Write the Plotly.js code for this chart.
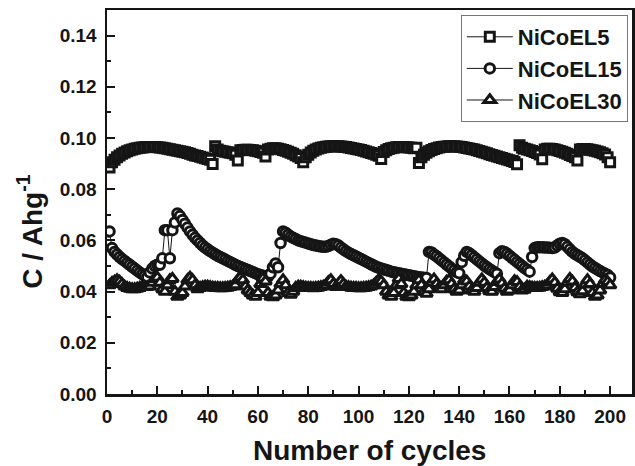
<!DOCTYPE html>
<html>
<head>
<meta charset="utf-8">
<script src="https://cdn.plot.ly/plotly-3.0.1.min.js"></script>
<style>
html,body{margin:0;padding:0;background:#fff;}
#chart{width:635px;height:466px;}
</style>
</head>
<body>
<div id="chart"></div>
<script>
// Series names
const seriesNames = ["NiCoEL5", "NiCoEL15", "NiCoEL30"];

// Capacity C / Ahg^-1 for cycles 1..200
const nicoel5 = [
0.0885,0.0905,0.0915,0.0925,0.0932,0.0938,0.0943,0.0948,0.0952,0.0955,
0.0958,0.0960,0.0962,0.0963,0.0964,0.0965,0.0965,0.0965,0.0965,0.0964,
0.0963,0.0962,0.0960,0.0958,0.0956,0.0954,0.0952,0.0950,0.0948,0.0946,
0.0944,0.0941,0.0938,0.0935,0.0932,0.0930,0.0927,0.0924,0.0921,0.0918,
0.0915,0.0898,0.0968,0.0955,0.0950,0.0948,0.0946,0.0944,0.0942,0.0940,
0.0935,0.0912,0.0952,0.0953,0.0954,0.0954,0.0953,0.0952,0.0950,0.0948,
0.0945,0.0942,0.0928,0.0955,0.0958,0.0960,0.0960,0.0958,0.0956,0.0953,
0.0950,0.0946,0.0942,0.0938,0.0933,0.0928,0.0922,0.0905,0.0925,0.0935,
0.0943,0.0950,0.0955,0.0959,0.0962,0.0964,0.0966,0.0967,0.0968,0.0968,
0.0968,0.0968,0.0967,0.0966,0.0965,0.0963,0.0961,0.0959,0.0957,0.0955,
0.0953,0.0950,0.0947,0.0944,0.0941,0.0938,0.0935,0.0931,0.0918,0.0945,
0.0952,0.0957,0.0960,0.0962,0.0964,0.0965,0.0965,0.0965,0.0964,0.0963,
0.0962,0.0960,0.0962,0.0902,0.0925,0.0935,0.0942,0.0948,0.0953,0.0957,
0.0960,0.0963,0.0965,0.0966,0.0967,0.0968,0.0968,0.0968,0.0967,0.0966,
0.0965,0.0963,0.0961,0.0959,0.0957,0.0955,0.0952,0.0949,0.0946,0.0943,
0.0940,0.0937,0.0934,0.0931,0.0928,0.0925,0.0922,0.0919,0.0916,0.0913,
0.0910,0.0906,0.0897,0.0972,0.0962,0.0958,0.0955,0.0952,0.0949,0.0945,
0.0941,0.0936,0.0917,0.0955,0.0958,0.0958,0.0957,0.0955,0.0952,0.0949,
0.0946,0.0942,0.0938,0.0934,0.0930,0.0925,0.0912,0.0955,0.0957,0.0957,
0.0956,0.0954,0.0952,0.0950,0.0947,0.0944,0.0940,0.0936,0.0925,0.0905
];

const nicoel15 = [
0.0635,0.0570,0.0555,0.0545,0.0535,0.0527,0.0520,0.0512,0.0505,0.0497,
0.0490,0.0482,0.0475,0.0468,0.0462,0.0455,0.0475,0.0490,0.0500,0.0505,
0.0505,0.0530,0.0640,0.0640,0.0530,0.0640,0.0670,0.0705,0.0695,0.0680,
0.0665,0.0650,0.0635,0.0622,0.0610,0.0600,0.0590,0.0580,0.0572,0.0565,
0.0558,0.0552,0.0546,0.0540,0.0535,0.0530,0.0525,0.0520,0.0515,0.0510,
0.0505,0.0500,0.0496,0.0492,0.0488,0.0484,0.0480,0.0476,0.0472,0.0468,
0.0465,0.0462,0.0460,0.0458,0.0470,0.0495,0.0510,0.0495,0.0590,0.0635,
0.0630,0.0622,0.0615,0.0610,0.0605,0.0600,0.0597,0.0594,0.0591,0.0588,
0.0585,0.0582,0.0580,0.0578,0.0576,0.0575,0.0575,0.0578,0.0583,0.0587,
0.0585,0.0580,0.0572,0.0565,0.0558,0.0552,0.0547,0.0542,0.0537,0.0532,
0.0527,0.0522,0.0517,0.0512,0.0507,0.0502,0.0497,0.0493,0.0490,0.0487,
0.0484,0.0481,0.0478,0.0476,0.0474,0.0472,0.0470,0.0468,0.0466,0.0464,
0.0462,0.0460,0.0458,0.0456,0.0455,0.0454,0.0453,0.0555,0.0553,0.0545,
0.0538,0.0530,0.0522,0.0514,0.0506,0.0498,0.0490,0.0483,0.0476,0.0472,
0.0515,0.0540,0.0555,0.0550,0.0542,0.0534,0.0526,0.0518,0.0510,0.0502,
0.0495,0.0488,0.0482,0.0476,0.0470,0.0550,0.0558,0.0555,0.0548,0.0540,
0.0532,0.0524,0.0516,0.0508,0.0500,0.0492,0.0485,0.0478,0.0535,0.0570,
0.0573,0.0573,0.0573,0.0572,0.0572,0.0571,0.0570,0.0572,0.0580,0.0587,
0.0590,0.0585,0.0575,0.0565,0.0555,0.0548,0.0542,0.0536,0.0530,0.0522,
0.0514,0.0506,0.0498,0.0492,0.0486,0.0480,0.0475,0.0470,0.0465,0.0455
];

const nicoel30 = [
0.0425,0.0435,0.0440,0.0445,0.0440,0.0430,0.0420,0.0415,0.0412,0.0410,
0.0410,0.0412,0.0415,0.0418,0.0420,0.0418,0.0420,0.0435,0.0450,0.0455,
0.0435,0.0410,0.0400,0.0425,0.0445,0.0450,0.0400,0.0380,0.0385,0.0395,
0.0420,0.0445,0.0455,0.0445,0.0425,0.0410,0.0415,0.0418,0.0420,0.0420,
0.0418,0.0416,0.0415,0.0415,0.0414,0.0414,0.0415,0.0416,0.0418,0.0420,
0.0425,0.0445,0.0455,0.0445,0.0420,0.0405,0.0395,0.0385,0.0380,0.0395,
0.0430,0.0452,0.0440,0.0395,0.0380,0.0378,0.0385,0.0405,0.0430,0.0445,
0.0425,0.0395,0.0388,0.0400,0.0415,0.0420,0.0420,0.0418,0.0416,0.0415,
0.0415,0.0414,0.0415,0.0416,0.0418,0.0420,0.0425,0.0438,0.0445,0.0430,
0.0418,0.0430,0.0442,0.0430,0.0420,0.0418,0.0416,0.0415,0.0415,0.0414,
0.0414,0.0415,0.0416,0.0418,0.0420,0.0425,0.0435,0.0445,0.0440,0.0425,
0.0400,0.0385,0.0380,0.0395,0.0425,0.0450,0.0430,0.0395,0.0380,0.0378,
0.0385,0.0400,0.0425,0.0445,0.0425,0.0400,0.0392,0.0410,0.0435,0.0448,
0.0430,0.0415,0.0410,0.0425,0.0440,0.0445,0.0430,0.0410,0.0400,0.0405,
0.0425,0.0445,0.0440,0.0420,0.0405,0.0400,0.0415,0.0435,0.0448,0.0435,
0.0415,0.0402,0.0400,0.0418,0.0438,0.0448,0.0432,0.0412,0.0400,0.0405,
0.0425,0.0442,0.0438,0.0418,0.0405,0.0408,0.0420,0.0418,0.0416,0.0415,
0.0415,0.0416,0.0418,0.0420,0.0425,0.0438,0.0448,0.0435,0.0412,0.0398,
0.0395,0.0410,0.0435,0.0450,0.0440,0.0415,0.0398,0.0390,0.0402,0.0428,
0.0445,0.0430,0.0395,0.0380,0.0385,0.0405,0.0430,0.0445,0.0438,0.0425
];

const xTickVals = [0,20,40,60,80,100,120,140,160,180,200];
const yTickVals = [0.00,0.02,0.04,0.06,0.08,0.10,0.12,0.14];

const cycles = nicoel5.map((_, i) => i + 1);

const FONT = "Liberation Sans, Arial, Helvetica, sans-serif";
const INK = "#151515";

function trace(name, y, symbol, size) {
  return {
    x: cycles, y: y, name: name, type: "scatter", mode: "lines+markers",
    line: {color: INK, width: 1},
    marker: {symbol: symbol, size: size, color: "#ffffff", line: {color: INK, width: 3}}
  };
}

const data = [
  trace(seriesNames[0], nicoel5, "square", 9),
  trace(seriesNames[1], nicoel15, "circle", 9.5),
  trace(seriesNames[2], nicoel30, "triangle-up", 10.5)
];

const axisCommon = {
  showgrid: false, zeroline: false, showline: true, linecolor: INK, linewidth: 2.5,
  mirror: true, ticks: "inside", ticklen: 8, tickwidth: 2, tickcolor: INK,
  tickfont: {family: FONT, size: 19, color: INK, weight: "bold"}
};

const layout = {
  width: 635, height: 466,
  margin: {l: 107, r: 3, t: 10, b: 72, pad: 0},
  paper_bgcolor: "#ffffff", plot_bgcolor: "#ffffff",
  showlegend: true,
  legend: {
    x: 0.992, xanchor: "right", y: 0.987, yanchor: "top",
    bgcolor: "#ffffff", bordercolor: "#777777", borderwidth: 1,
    font: {family: FONT, size: 22, color: INK, weight: "bold"},
    tracegroupgap: 0, itemwidth: 46
  },
  xaxis: Object.assign({}, axisCommon, {
    range: [0, 208.7], tickmode: "array", tickvals: xTickVals,
    ticktext: xTickVals.map(String), ticklabelstandoff: 4,
    minor: {dtick: 10, tick0: 0, ticks: "inside", ticklen: 4, tickwidth: 2, tickcolor: INK}
  }),
  yaxis: Object.assign({}, axisCommon, {
    range: [0, 0.15], tickmode: "array", tickvals: yTickVals,
    ticktext: yTickVals.map(v => v.toFixed(2)), ticklabelstandoff: 4,
    minor: {dtick: 0.01, tick0: 0, ticks: "inside", ticklen: 4, tickwidth: 2, tickcolor: INK}
  }),
  annotations: [
    {text: "Number of cycles", xref: "paper", yref: "paper", x: 0.5, y: -0.146,
     xanchor: "center", yanchor: "middle", showarrow: false,
     font: {family: FONT, size: 28, color: INK, weight: "bold"}},
    {text: "C / Ahg<sup>-1</sup>", xref: "paper", yref: "paper", x: -0.147, y: 0.422,
     xanchor: "center", yanchor: "middle", showarrow: false, textangle: -90,
     font: {family: FONT, size: 28, color: INK, weight: "bold"}}
  ]
};

Plotly.newPlot("chart", data, layout, {displayModeBar: false, staticPlot: true});
</script>
</body>
</html>
